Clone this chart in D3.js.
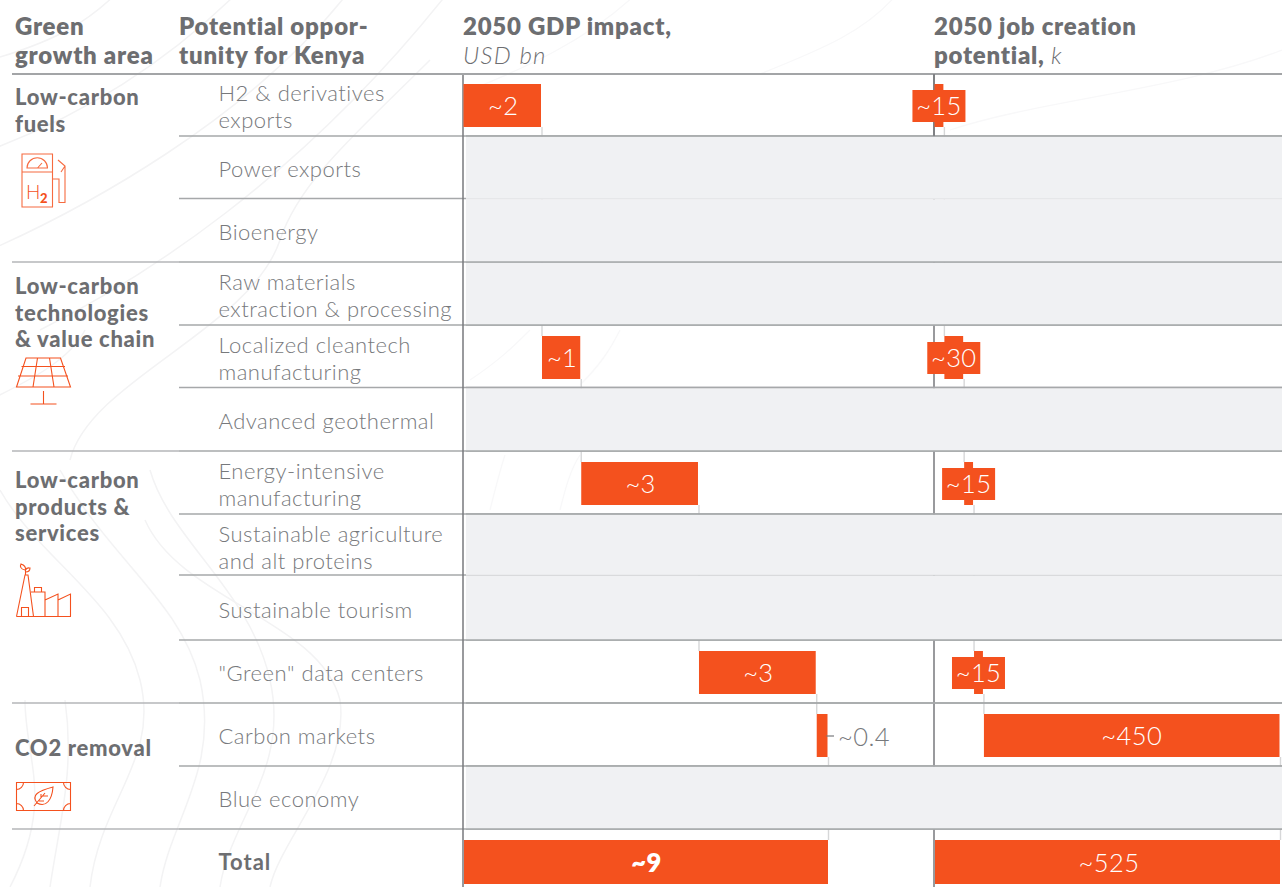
<!DOCTYPE html>
<html><head><meta charset="utf-8">
<script src="https://cdn.jsdelivr.net/npm/d3@7"></script>
<style>html,body{margin:0;padding:0;background:#fff;overflow:hidden}svg{display:block}text{font-family:Lato,"Open Sans",sans-serif}</style>
</head><body><svg id="c" width="1282" height="887"></svg>
<script>
// ---------- data ----------
const rowNames = ["H2","Power","Bio","Raw","Clean","Geo","Energy","Agri","Tourism","Data","Carbon","Blue","Total"];
const rowLabels = [["H2 & derivatives","exports"],["Power exports"],["Bioenergy"],["Raw materials","extraction & processing"],["Localized cleantech","manufacturing"],["Advanced geothermal"],["Energy-intensive","manufacturing"],["Sustainable agriculture","and alt proteins"],["Sustainable tourism"],["\"Green\" data centers"],["Carbon markets"],["Blue economy"],["Total"]];
const gdpValues = [2,null,null,null,1,null,3,null,null,3,0.3,null];
const gdpLabels = ["~2",null,null,null,"~1",null,"~3",null,null,"~3","~0.4",null];
const gdpTotal = 9.3, gdpTotalLabel = "~9";
const jobValues = [15,null,null,null,30,null,15,null,null,15,450,null];
const jobLabels = ["~15",null,null,null,"~30",null,"~15",null,null,"~15","~450",null];
const jobTotal = 525, jobTotalLabel = "~525";
const groupNames = [["Low-carbon","fuels"],["Low-carbon","technologies","& value chain"],["Low-carbon","products &","services"],["CO2 removal"]];
const headers = [["Green","growth area"],["Potential oppor-","tunity for Kenya"]];

// ---------- layout ----------
const ORANGE="#f4511e", TXT="#77797c", HEAD="#6d6e71", LINE="#a6a8aa", GREY="#f0f1f3";
const rowTops=[74,136,198.5,262,325,387.5,451,514,575,640,703,766,829];
const rowBottomEnd=887;
const groupStart=[0,3,6,10];
const y=d3.scaleOrdinal().domain(rowNames).range(rowTops);
const xG=d3.scaleLinear().domain([0,gdpTotal]).range([463,828]);
const xJ=d3.scaleLinear().domain([0,jobTotal]).range([934,1280]);
const barTop=i=>rowTops[i]+(i==0?10:11);
const svg=d3.select("#c");
svg.append("rect").attr("width",1282).attr("height",887).attr("fill","#fff");

// faint background contours (decorative)
const contoursLeft=["M-10,60 C60,40 90,20 120,-10","M-10,150 C70,120 160,70 240,-10","M-10,250 C80,210 250,120 350,-10","M40,330 C140,280 300,180 450,-10",
"M70,460 C90,380 250,330 280,240 C300,180 360,130 430,60","M-10,400 C30,380 70,360 85,330","M0,490 C40,560 120,600 140,680 C160,760 100,800 90,887","M60,470 C110,560 180,600 200,680 C220,770 170,820 160,887",
"M150,470 C170,540 250,590 270,680 C290,770 230,820 220,887","M25,700 C25,760 55,800 10,887","M65,700 C75,770 60,820 50,887","M145,520 C180,600 320,620 340,700 C350,770 280,840 270,887"];
const contoursRight=["M470,90 C520,70 590,40 640,-10","M760,74 C820,50 870,30 900,-10","M950,130 C1040,100 1180,90 1282,50","M470,380 C500,360 515,345 530,330","M580,385 C600,365 610,350 620,330","M490,510 C495,490 500,470 505,455","M560,510 C565,490 570,470 580,455"];
svg.append("g").selectAll("path").data(contoursLeft).join("path").attr("d",d=>d).attr("fill","none").attr("stroke","#f3f3f4").attr("stroke-width",1.5);
svg.append("g").selectAll("path").data(contoursRight).join("path").attr("d",d=>d).attr("fill","none").attr("stroke","#f8f8f9").attr("stroke-width",1.3);

const rowBot=i=>i<rowNames.length-1?rowTops[i+1]:rowBottomEnd;
const dataRows=rowNames.slice(0,12);

// cumulative waterfall
function stack(vals){let c=0;return vals.map((v,i)=>{if(v==null)return null;const r={i,x0:c,x1:c+v};c+=v;return r;}).filter(Boolean);}
const gdpStack=stack(gdpValues), jobStack=stack(jobValues);

// connectors
function connectors(st,x){
  const g=svg.append("g").attr("stroke","#d6d7d8").attr("stroke-width",1.4);
  st.forEach((d,k)=>{
    const nextTop=k<st.length-1?barTop(st[k+1].i):840;
    g.append("line").attr("x1",x(d.x1)+0.5).attr("x2",x(d.x1)+0.5).attr("y1",barTop(d.i)+43).attr("y2",nextTop);
  });
}
connectors(gdpStack,xG);connectors(jobStack,xJ);

// vertical axes
svg.append("line").attr("x1",xJ(0)).attr("x2",xJ(0)).attr("y1",74).attr("y2",887).attr("stroke","#77797c").attr("stroke-width",1.5);

// row rules under the grey rows
rowTops.forEach((t,i)=>{
  if(i==0)return;
  svg.append("line").attr("x1",179).attr("x2",1282).attr("y1",t).attr("y2",t).attr("stroke",LINE).attr("stroke-width",1.3);
  if(groupStart.includes(i)||i==12)svg.append("line").attr("x1",12).attr("x2",179).attr("y1",t).attr("y2",t).attr("stroke","#b5b6b8").attr("stroke-width",1.6);
});

// grey (no estimate) rows
svg.append("g").selectAll("rect").data(dataRows.filter((d,i)=>gdpValues[i]==null)).join("rect")
 .attr("x",466).attr("width",1282-466).attr("y",d=>y(d)+0.7).attr("height",d=>rowBot(rowNames.indexOf(d))-y(d)-0.7).attr("fill",GREY);
// faint seams where two grey rows meet; solid rules elsewhere stay above the fill
rowTops.forEach((t,i)=>{
  if(i==0)return;
  const greyAbove=gdpValues[i-1]==null, greyBelow=i<12&&gdpValues[i]==null;
  const seam=greyAbove&&greyBelow&&!groupStart.includes(i)&&i!=3;
  svg.append("line").attr("x1",466).attr("x2",1282).attr("y1",t).attr("y2",t).attr("stroke",seam?"#e6e7e9":LINE).attr("stroke-width",seam?1:1.3);
});
svg.append("line").attr("x1",xG(0)).attr("x2",xG(0)).attr("y1",74).attr("y2",887).attr("stroke","#77797c").attr("stroke-width",1.5);
svg.append("line").attr("x1",12).attr("x2",1282).attr("y1",74).attr("y2",74).attr("stroke","#a3a5a7").attr("stroke-width",2.2);
svg.append("line").attr("x1",xJ(0)).attr("x2",xJ(0)).attr("y1",74).attr("y2",136).attr("stroke","#77797c").attr("stroke-width",1.5);

// bars
function bars(st,x){
  svg.append("g").selectAll("rect").data(st).join("rect").attr("x",d=>x(d.x0)+0.5).attr("width",d=>Math.max(0,x(d.x1)-x(d.x0)-1))
   .attr("y",d=>barTop(d.i)).attr("height",43).attr("fill",ORANGE);
}
bars(gdpStack,xG);bars(jobStack,xJ);
// total bars
svg.append("rect").attr("x",xG(0)+1).attr("width",xG(gdpTotal)-xG(0)-1).attr("y",840).attr("height",44).attr("fill",ORANGE);
svg.append("rect").attr("x",xJ(0)+1).attr("width",xJ(jobTotal)-xJ(0)-1).attr("y",840).attr("height",44).attr("fill",ORANGE);

// value labels
const vtext=(x,yy,t,fill,anchor,w)=>svg.append("text").attr("x",x).attr("y",yy).attr("text-anchor",anchor||"middle").attr("fill",fill||"#fff").attr("font-size",25.5).attr("letter-spacing",0.4).attr("font-weight",w||300).text(t);
gdpStack.forEach(d=>{
  const lab=gdpLabels[d.i], t=barTop(d.i);
  if(d.x1-d.x0<0.5){
    svg.append("line").attr("x1",xG(d.x0)+10).attr("x2",xG(d.x1)+6).attr("y1",t+22).attr("y2",t+22).attr("stroke","#77797c").attr("stroke-width",1.2);
    vtext(xG(d.x1)+10,t+32,lab,TXT,"start");
  } else vtext(xG((d.x0+d.x1)/2)+1,t+31,lab);
});
jobStack.forEach(d=>{
  const lab=jobLabels[d.i], cx=xJ((d.x0+d.x1)/2), t=barTop(d.i);
  if(d.x1-d.x0<100){
    svg.append("rect").attr("x",cx-26.5).attr("width",53).attr("y",t+6).attr("height",32).attr("fill",ORANGE);
  }
  vtext(cx,t+31,lab);
});
vtext(xG(gdpTotal/2)+1,872,gdpTotalLabel,"#fff","middle",800);
vtext(xJ(jobTotal/2)+2,872,jobTotalLabel);

// row labels
const singleBase=[0,41,41,0,0,41,0,0,43,41,41,41,41];
rowNames.forEach((r,i)=>{
  const L=rowLabels[i],t=y(r);
  const isTotal=r==="Total";
  L.forEach((s,k)=>{
    svg.append("text").attr("x",218.5).attr("y",L.length==1?t+singleBase[i]:t+(i==0?26.5:27.5)+27*k)
     .attr("font-size",22).attr("letter-spacing",isTotal?1:0.5).attr("font-weight",isTotal?700:300).attr("fill",isTotal?HEAD:TXT).text(s);
  });
});

// headers
const hText=(x,yy)=>svg.append("text").attr("x",x).attr("y",yy).attr("font-size",24).attr("letter-spacing",0.75).attr("fill",HEAD);
headers.forEach((h,c)=>h.forEach((s,k)=>hText(c?179:15,35+28.5*k).attr("font-weight",800).text(s)));
hText(463,35).attr("font-weight",800).text("2050 GDP impact,");
hText(463,63.5).attr("font-style","italic").attr("font-weight",300).attr("letter-spacing",1.3).text("USD bn");
hText(934,35).attr("font-weight",800).text("2050 job creation");
const pt=hText(934,63.5);
pt.append("tspan").attr("font-weight",800).text("potential, ");
pt.append("tspan").attr("font-style","italic").attr("font-weight",300).text("k");

// group names
const groupY=[105,294,488,756];
groupNames.forEach((g,i)=>g.forEach((s,k)=>svg.append("text").attr("x",15).attr("y",groupY[i]+26.5*k).attr("font-size",22).attr("letter-spacing",0.7).attr("font-weight",900).attr("fill",HEAD).text(s)));

// icons
const ic=svg.append("g").attr("fill","none").attr("stroke",ORANGE).attr("stroke-width",1.1);
ic.append("path").attr("opacity",.85).attr("d","M22,154H52.5V207H22ZM22,172H52.5M27,168A10,10 0 0 1 47.5,168ZM37.5,168L42,163M52.5,179H59V202.5H65V166L58,160M65,166L61,172");
svg.append("text").attr("x",26).attr("y",199).attr("font-size",19).attr("font-weight",300).attr("fill",ORANGE).text("H");
svg.append("text").attr("x",40).attr("y",203).attr("font-size",13).attr("font-weight",900).attr("fill",ORANGE).text("2");
ic.append("path").attr("d","M26,358H60.5L70.5,387H16.5ZM21.5,366.5H65M18,376H68M37.5,358L33,387M49.5,358L54,387M43.5,391V404M30.5,404H56.5");
ic.append("path").attr("d","M16.5,616.5H71M16.5,616.5L25,575H28L33.5,616.5M21.5,616.5V607.5H28.5V616.5M31,592H45V616.5M34.5,592V587.5H41.5V592M45,600L58,594V616.5M58,600L70.5,594V616.5M25.5,575V569M25,570C20,569 20,566 21,564C24,565 26,567 25.5,570C27,567 29,568 30,568C30,571 28,572 25.5,572");
ic.append("path").attr("d","M16.5,782.5H70.5V810.5H16.5ZM16.5,789.5A7,7 0 0 0 23.5,782.5M63.5,782.5A7,7 0 0 0 70.5,789.5M16.5,803.5A7,7 0 0 1 23.5,810.5M63.5,810.5A7,7 0 0 1 70.5,803.5M34,806L45,793M37,803C31,795 38,791 53,787C52,800 46,808 37,803M41,798V794M43,796L48,796M39,801H44");
</script></body></html>
